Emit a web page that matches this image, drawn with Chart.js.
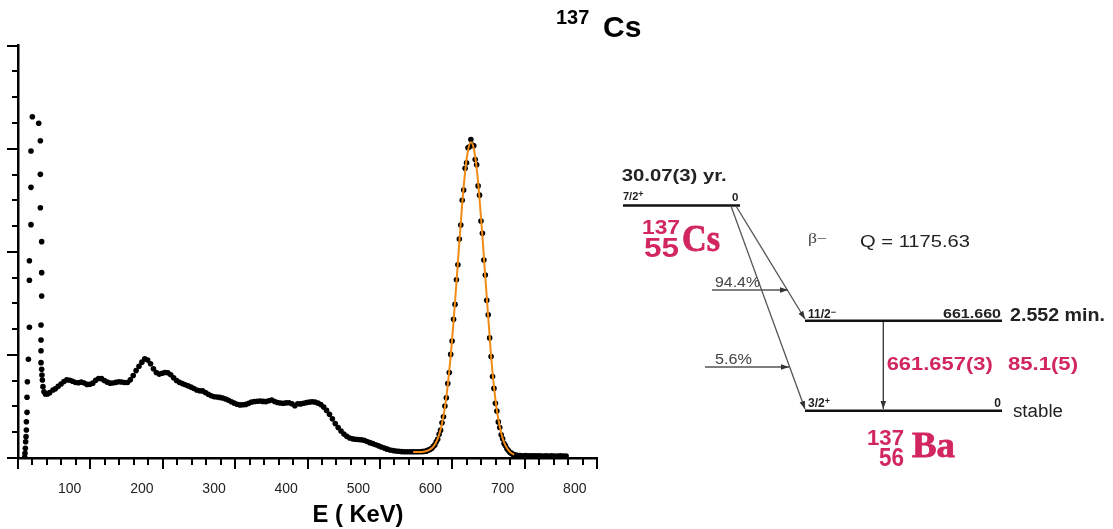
<!DOCTYPE html>
<html><head><meta charset="utf-8">
<script src="https://cdn.jsdelivr.net/npm/chart.js@4.4.1/dist/chart.umd.min.js"></script>
<style>
html,body{margin:0;padding:0;background:#fff;}
#wrap{position:relative;width:1113px;height:529px;overflow:hidden;background:#fff;}
#c{position:absolute;left:0;top:0;}
#ov{position:absolute;left:0;top:0;font-family:"Liberation Sans",Arial,sans-serif;}
</style></head><body>
<div id="wrap">
<canvas id="c" width="1113" height="529"></canvas>
<svg id="ov" width="1113" height="529" xmlns="http://www.w3.org/2000/svg">
<defs>
<marker id="ah" viewBox="0 0 10 10" refX="10" refY="5" markerWidth="8" markerHeight="8" orient="auto" markerUnits="userSpaceOnUse"><path d="M0,1.5 L10,5 L0,8.5 z" fill="#333"/></marker>
</defs>
<!-- title -->
<text x="556" y="24" font-size="20" font-weight="bold" fill="#000">137</text>
<text x="603" y="37" font-size="30" font-weight="bold" fill="#000">Cs</text>
<!-- x axis title -->
<text x="358" y="522" text-anchor="middle" font-size="23" font-weight="bold" fill="#000" textLength="91" lengthAdjust="spacingAndGlyphs">E ( KeV)</text>
<!-- decay scheme -->
<text x="621.7" y="180.5" font-size="16" font-weight="bold" fill="#222" textLength="105" lengthAdjust="spacingAndGlyphs">30.07(3) yr.</text>
<text x="623" y="200" font-size="11" font-weight="bold" fill="#222">7/2<tspan dy="-3" font-size="9">+</tspan></text>
<line x1="623" y1="205.5" x2="740" y2="205.5" stroke="#111" stroke-width="2.5"/>
<text x="732" y="201" font-size="11.5" font-weight="bold" fill="#222">0</text>
<text x="642" y="233.5" font-size="21" font-weight="bold" fill="#d2265f" textLength="38" lengthAdjust="spacingAndGlyphs">137</text>
<text x="644" y="256.5" font-size="27" font-weight="bold" fill="#d2265f" textLength="35" lengthAdjust="spacingAndGlyphs">55</text>
<text x="682" y="250.5" font-family="Liberation Serif,serif" font-size="38" font-weight="bold" fill="#d2265f" stroke="#d2265f" stroke-width="0.8" textLength="38" lengthAdjust="spacingAndGlyphs">Cs</text>
<text x="808" y="243" font-size="14" fill="#444" font-family="Liberation Serif,serif" textLength="19" lengthAdjust="spacingAndGlyphs">β−</text>
<text x="860" y="246.5" font-size="16.5" fill="#222" textLength="110" lengthAdjust="spacingAndGlyphs">Q = 1175.63</text>
<line x1="736" y1="206" x2="805" y2="319" stroke="#555" stroke-width="1.3" marker-end="url(#ah)"/>
<line x1="731" y1="206" x2="805" y2="409" stroke="#555" stroke-width="1.3" marker-end="url(#ah)"/>
<line x1="712" y1="290" x2="788" y2="290" stroke="#555" stroke-width="1.3" marker-end="url(#ah)"/>
<text x="715" y="287" font-size="14" fill="#444" textLength="45" lengthAdjust="spacingAndGlyphs">94.4%</text>
<line x1="705" y1="367" x2="789" y2="367" stroke="#555" stroke-width="1.3" marker-end="url(#ah)"/>
<text x="715" y="364" font-size="14" fill="#444" textLength="37" lengthAdjust="spacingAndGlyphs">5.6%</text>
<text x="808" y="317.5" font-size="12" font-weight="bold" fill="#222">11/2<tspan dy="-3" font-size="9">−</tspan></text>
<line x1="805" y1="320.7" x2="1002" y2="320.7" stroke="#111" stroke-width="2.5"/>
<text x="1001" y="317.5" text-anchor="end" font-size="13" font-weight="bold" fill="#222" textLength="58" lengthAdjust="spacingAndGlyphs">661.660</text>
<text x="1010" y="320.5" font-size="18.5" font-weight="bold" fill="#222" textLength="95" lengthAdjust="spacingAndGlyphs">2.552 min.</text>
<line x1="883.3" y1="322" x2="883.3" y2="409" stroke="#333" stroke-width="1.3" marker-end="url(#ah)"/>
<text x="886.7" y="369.5" font-size="19" font-weight="bold" fill="#d2265f" textLength="106" lengthAdjust="spacingAndGlyphs">661.657(3)</text>
<text x="1008" y="369.5" font-size="19" font-weight="bold" fill="#d2265f" textLength="70" lengthAdjust="spacingAndGlyphs">85.1(5)</text>
<text x="808" y="407" font-size="12" font-weight="bold" fill="#222">3/2<tspan dy="-3" font-size="9">+</tspan></text>
<line x1="805" y1="410.7" x2="1002" y2="410.7" stroke="#111" stroke-width="2.5"/>
<text x="1001" y="407" text-anchor="end" font-size="12" font-weight="bold" fill="#222">0</text>
<text x="1013" y="416.5" font-size="18" fill="#222" textLength="50" lengthAdjust="spacingAndGlyphs">stable</text>
<text x="867" y="445" font-size="22" font-weight="bold" fill="#d2265f" textLength="37" lengthAdjust="spacingAndGlyphs">137</text>
<text x="879" y="465.5" font-size="25" font-weight="bold" fill="#d2265f" textLength="25" lengthAdjust="spacingAndGlyphs">56</text>
<text x="912" y="456.5" font-family="Liberation Serif,serif" font-size="36" font-weight="bold" fill="#d2265f" stroke="#d2265f" stroke-width="0.8" textLength="43" lengthAdjust="spacingAndGlyphs">Ba</text>
</svg>
</div>
<script>
// ---- axis settings ----
const X_MIN = 28.3, X_MAX = 830.8;
const Y_MIN = 0, Y_MAX = 4000;
const xTickLabels = [100, 200, 300, 400, 500, 600, 700, 800];

// ---- low-energy spike (keV, counts) ----
const lowX = [37.6,38.0,38.5,38.9,39.4,39.9,39.9,40.8,40.8,41.3,42.7,44.1,44.1,44.1,46.3,46.3,46.3,48.2,
              57.0,59.3,59.3,59.3,61.1,61.1,61.1,60.2,60.2,60.2,60.2,61.1,61.5,62.1,62.9,64.3,66.3,69.1,72.2,76.8];
const lowY = [10,45,94,158,207,272,352,443,589,740,958,1268,1724,1914,2264,2626,2979,3311,
              3247,3078,2752,2428,2099,1798,1572,1290,1145,1041,925,861,805,757,692,643,621,621,634,660];

// ---- Compton continuum ----
const contX = [80,84,88,92,96,100,104,108,112,116,
               120,124,128,132,136,140,144,148,152,156,
               160,164,168,172,176,180,184,188,192,196,
               200,204,208,212,216,220,224,228,232,236,
               240,244,248,252,256,260,264,268,272,276,
               280,284,288,292,296,300,304,308,312,316,
               320,324,328,332,336,340,344,348,352,356,
               360,364,368,372,376,380,384,388,392,396,
               400,404,408,412,416,420,424,428,432,436,
               440,444,448,452,456,460,464,468,472,476,
               480,484,488,492,496,500,504,508,512,516,
               520,524,528,532,536,540,544,548,552,556,
               560,564,568,572,576,580,584,588];
const contY = [672,695,718,742,758,754,745,733,730,736,
               728,714,716,726,755,772,770,752,736,726,
               728,734,740,738,733,733,758,800,848,890,
               930,962,950,915,866,830,814,822,830,826,
               808,778,752,734,722,710,700,688,674,660,
               652,651,636,618,604,594,592,588,582,572,
               560,546,532,522,515,516,520,530,542,548,
               551,553,549,547,556,562,548,538,533,531,
               535,536,527,507,527,525,531,537,542,546,
               542,532,518,494,462,424,380,334,296,262,
               232,210,194,186,182,180,177,172,160,149,
               139,129,118,106,96,86,78,72,68,65,
               62,61,60,60,61,60,61,62];

// ---- photopeak ----
const peakX = [590,592,594,596,598,600,602,604,606,608,
               610,612,614,616,618,620,622,624,626,628,
               630,632,634,636,638,640,642,644,646,648,
               650,652,654,656,658,660,662,664,666,668,
               670,672,674,676,678,680,682,684,686,688,
               690,692,694,696,698,700,702,704,706,708,
               710,712,714,716,718,720];
const peakY = [63,66,66,74,77,88,95,113,127,158,
               182,231,270,342,400,505,585,722,830,1005,
               1135,1345,1490,1730,1875,2125,2260,2500,2600,2810,
               2865,3010,3020,3090,3035,3030,2895,2845,2640,2550,
               2300,2180,1920,1775,1530,1390,1165,985,790,675,
               530,455,350,296,225,186,140,118,89,73,
               55,47,37,33,27,26];

// ---- high-energy tail ----
const tailX = [724,728,732,736,740,744,748,752,756,760,764,768,772,776,780,784,788];
const tailY = [24,22,23,21,22,21,22,21,20,21,20,21,20,20,21,20,20];

// ---- Gaussian fit curve (orange) ----
const fitX = [576,580,584,588,592,596,600,604,608,612,616,620,624,628,632,636,640,644,
              648,652,656,660,664,668,672,676,680,684,688,692,696,700,704,708,712,716];
const fitY = [58,58,58,59,64,72,86,110,155,226,335,493,710,988,1325,1702,2095,2466,
              2775,2983,3063,3003,2813,2517,2150,1755,1370,990,690,465,305,192,120,76,48,32];

const toPts = (xs, ys) => xs.map((x, i) => ({x: x, y: ys[i]}));
const spectrum = [].concat(toPts(lowX, lowY), toPts(contX, contY), toPts(peakX, peakY), toPts(tailX, tailY));
const fitPts = toPts(fitX, fitY);

const tickPlugin = {
  id: 'customTicks',
  afterDraw(chart) {
    const ctx = chart.ctx, xs = chart.scales.x, ys = chart.scales.y, a = chart.chartArea;
    ctx.save();
    ctx.strokeStyle = '#000';
    ctx.lineWidth = 2;
    ctx.beginPath();
    const nx = 40;
    for (let i = 0; i <= nx; i++) {
      const v = X_MIN + (X_MAX - X_MIN) * i / nx;
      const px = Math.round(xs.getPixelForValue(v));
      const len = (i % 5 === 0) ? 11 : 7;
      ctx.moveTo(px, a.bottom);
      ctx.lineTo(px, a.bottom + len);
    }
    const ny = 16;
    for (let i = 0; i <= ny; i++) {
      const v = Y_MIN + (Y_MAX - Y_MIN) * i / ny;
      const py = Math.round(ys.getPixelForValue(v));
      const len = (i % 4 === 0) ? 11 : 6;
      ctx.moveTo(a.left - len, py);
      ctx.lineTo(a.left, py);
    }
    ctx.stroke();
    ctx.restore();
  }
};

Chart.defaults.font.family = '"Liberation Sans", Arial, sans-serif';

new Chart(document.getElementById('c'), {
  type: 'scatter',
  data: {
    datasets: [
      { type: 'line', label: 'Gaussian fit', data: fitPts, borderColor: '#f28a16', borderWidth: 2,
        pointRadius: 0, fill: false, cubicInterpolationMode: 'monotone', order: 0 },
      { type: 'scatter', label: 'Spectrum', data: spectrum, backgroundColor: '#000', borderWidth: 0,
        pointRadius: 2.8, order: 1 }
    ]
  },
  options: {
    responsive: false, animation: false, devicePixelRatio: 1,
    layout: { padding: { left: 18, top: 45.7, right: 516, bottom: 0 } },
    plugins: { legend: { display: false }, tooltip: { enabled: false }, title: { display: false } },
    scales: {
      x: {
        type: 'linear', min: X_MIN, max: X_MAX,
        afterBuildTicks: s => { s.ticks = xTickLabels.map(v => ({ value: v })); },
        afterFit: s => { s.height = 71; },
        grid: { display: false, drawTicks: false },
        border: { display: true, color: '#000', width: 2.5 },
        ticks: { font: { size: 14 }, color: '#222', padding: 23, maxRotation: 0, autoSkip: false }
      },
      y: {
        type: 'linear', min: Y_MIN, max: Y_MAX,
        afterFit: s => { s.width = 0; },
        grid: { display: false, drawTicks: false },
        border: { display: true, color: '#000', width: 2.5 },
        ticks: { display: false }
      }
    }
  },
  plugins: [tickPlugin]
});
</script>
</body></html>
